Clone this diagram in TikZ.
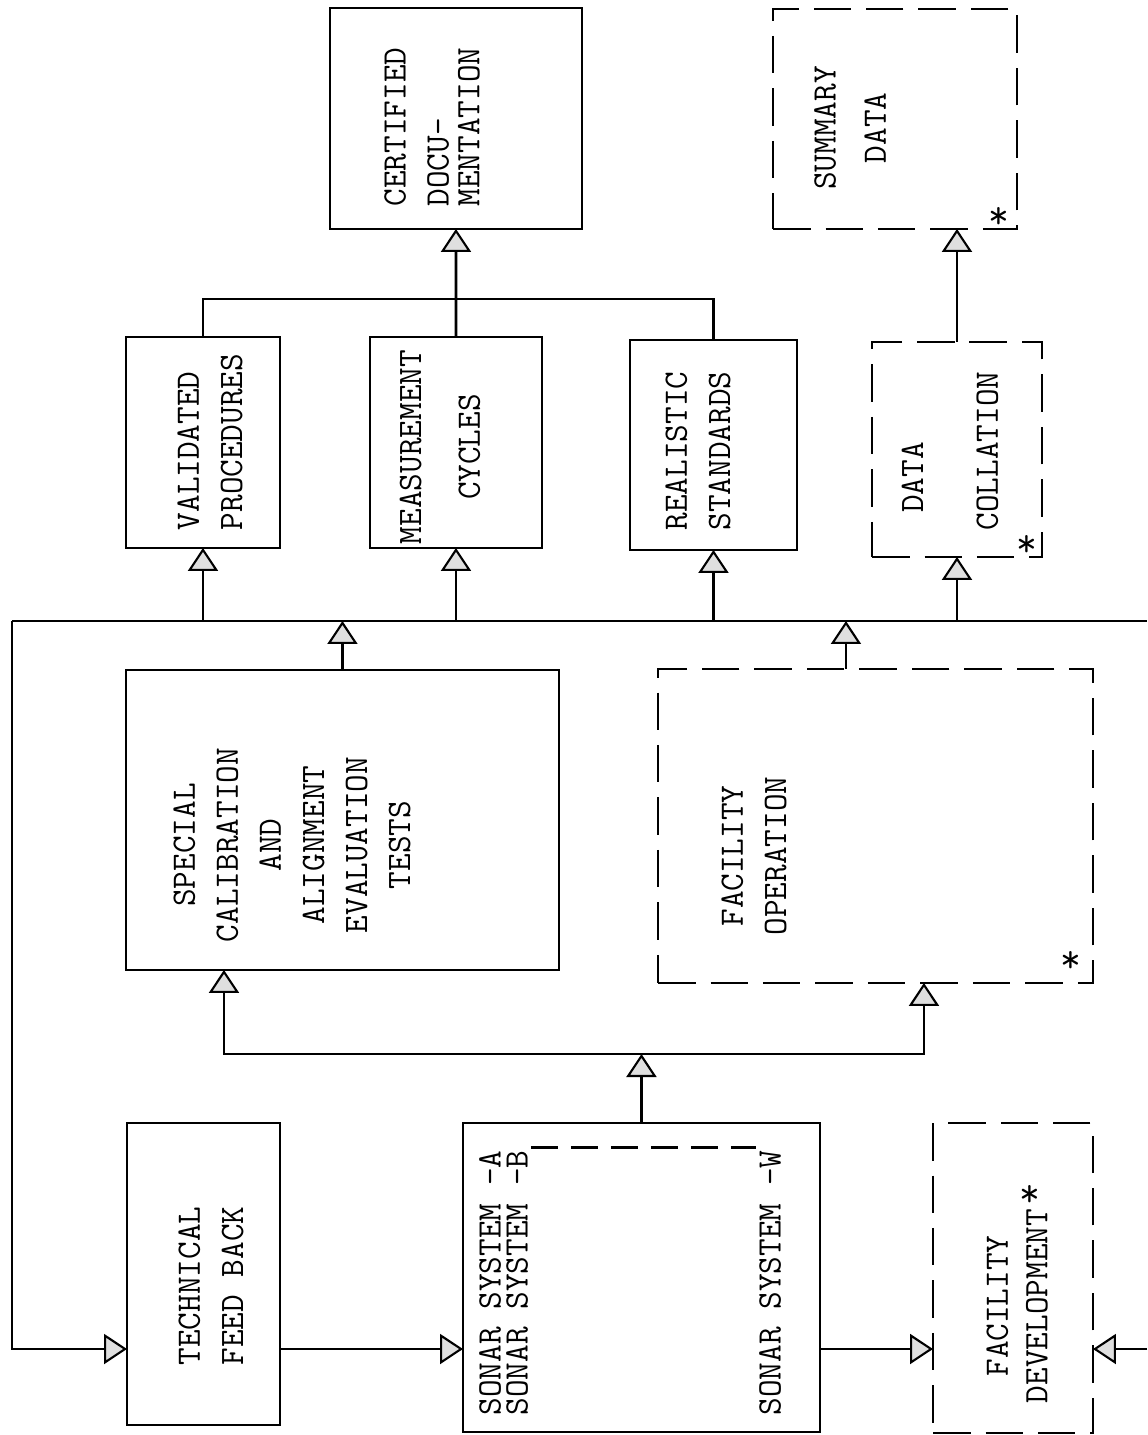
\documentclass[tikz,border=0pt]{standalone}
\usepackage{tikz}
\usetikzlibrary{arrows.meta}

\begin{document}
\begin{tikzpicture}[
    x = .02cm,
    y = -.02cm,
    font = \fontsize{19.5}{24.5}\selectfont\ttfamily,
    line width = 1.5pt,
    block/.style = {
      rectangle,
      draw,
      line width=1.6pt,
      anchor=north west,
      inner sep=0pt,
      outer sep=0pt
    },
    dblock/.style = {
      block,
      dash pattern=on 0.75cm off 0.3cm
    },
    lbl/.style = {
      rotate=90,
      align=center,
      inner sep=1pt
    },
    ast/.style = {
      font=\fontsize{23}{23}\selectfont\ttfamily,
      inner sep=0pt
    },
    arr/.style = {
      -{Triangle[width=0.6cm,length=0.46cm,fill=gray!25,line width=1.2pt]}
    }
  ]
    \useasboundingbox (0,0) rectangle (1147,1435);

    % boxes
    \node[block, minimum width=5.04cm, minimum height=4.42cm] (cert) at (330,8) {};
    \node[dblock, minimum width=4.88cm, minimum height=4.40cm] (summ) at (773,9) {};
    \node[block, minimum width=3.08cm, minimum height=4.22cm] (valid) at (126,337) {};
    \node[block, minimum width=3.44cm, minimum height=4.22cm] (meas) at (370,337) {};
    \node[block, minimum width=3.34cm, minimum height=4.20cm] (real) at (630,340) {};
    \node[dblock, minimum width=3.40cm, minimum height=4.30cm] (coll) at (872,342) {};
    \node[block, minimum width=8.66cm, minimum height=6.00cm] (spec) at (126,670) {};
    \node[dblock, minimum width=8.70cm, minimum height=6.28cm] (facop) at (658,669) {};
    \node[block, minimum width=3.06cm, minimum height=6.04cm] (tech) at (127,1123) {};
    \node[block, minimum width=7.14cm, minimum height=6.18cm] (sonar) at (463,1123) {};
    \node[dblock, minimum width=3.20cm, minimum height=6.20cm] (facdev) at (933,1123) {};

    % texts
    \node[lbl, align=left] (certt) at (432,127) {CERTIFIED\\DOCU-\\[-7pt]MENTATION};
    \node[lbl] (summt) at (850,128) {SUMMARY\\[4pt]DATA};
    \node[lbl, align=left] (validt) at (210,442) {VALIDATED\\PROCEDURES};
    \node[lbl] (meast) at (440,447) {MEASUREMENT\\[9pt]CYCLES};
    \node[lbl] (realt) at (698,451) {REALISTIC\\STANDARDS};
    \node[lbl, align=left] (collt) at (950,451) {\hphantom{X}DATA\\[18pt]COLLATION};
    \node[lbl] (spect) at (292,845) {SPECIAL\\CALIBRATION\\AND\\ALIGNMENT\\EVALUATION\\TESTS};
    \node[lbl] (facopt) at (754,856) {FACILITY\\OPERATION};
    \node[lbl] (techt) at (211,1286) {TECHNICAL\\FEED BACK};
    \node[lbl] (sonA) at (490,1283) {SONAR SYSTEM -A};
    \node[lbl] (sonB) at (517,1283) {SONAR SYSTEM -B};
    \node[lbl] (sonW) at (770,1283) {SONAR SYSTEM -W};
    \node[lbl] (facdevt) at (1017,1306) {FACILITY\\[-2pt]DEVELOPMENT};
    \draw[dash pattern=on 0.55cm off 0.25cm] (sonB.south east) -- (sonW.north east);

    % asterisks
    \node[ast] (s1) at (999,218) {*};
    \node[ast] (s2) at (1027,546) {*};
    \node[ast] (s3) at (1071,962) {*};
    \node[ast] (s4) at (1030,1196) {*};

    % busses
    \coordinate (topbus) at (0,299);
    \coordinate (bl) at (12,621);
    \coordinate (br) at (1147,621);
    \coordinate (lowbus) at (0,1054);
    \coordinate (lowrow) at (0,1349);
    \coordinate (redge) at (1147,1349);

    \draw (valid.north) |- (real.north |- topbus) -- (real.north);
    \draw[arr] (meas.north) -- (cert.south);
    \draw[arr] (coll.north) -- (coll.north |- summ.south);

    \draw (bl) -- (br);
    \draw[arr] (valid.south |- bl) -- (valid.south);
    \draw[arr] (meas.south |- bl) -- (meas.south);
    \draw[arr] (real.south |- bl) -- (real.south);
    \draw[arr] (coll.south |- bl) -- (coll.south);
    \draw[arr] (spec.north) -- (spec.north |- bl);
    \draw[arr] ([xshift=3.76cm]facop.north west) -- ++(0,-48);

    \draw[arr] (sonar.north) -- (sonar.north |- lowbus);
    \draw[arr] (sonar.north |- lowbus) -| ([xshift=1.96cm]spec.south west);
    \draw[arr] (sonar.north |- lowbus) -| ([xshift=5.32cm]facop.south west);

    \draw[arr] (bl) |- (tech.west |- lowrow);
    \draw[arr] (tech.east |- lowrow) -- (sonar.west |- lowrow);
    \draw[arr] (sonar.east |- lowrow) -- (facdev.west |- lowrow);
    \draw[arr] (redge) -- (facdev.east |- redge);

\end{tikzpicture}
\end{document}
